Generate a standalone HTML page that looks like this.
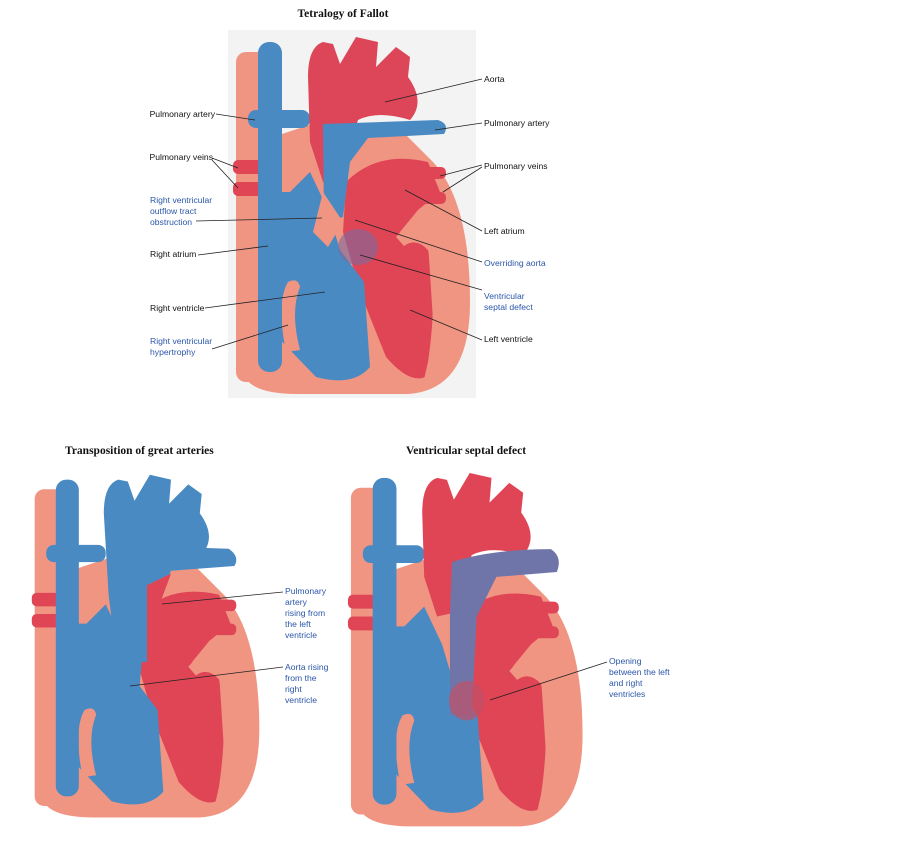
<!DOCTYPE html>
<html><head><meta charset="utf-8"><style>
html,body{margin:0;padding:0;background:#fff;}
svg{display:block;}
.t{font-family:"Liberation Sans",sans-serif;font-size:8.6px;fill:#111;}
.b{font-family:"Liberation Sans",sans-serif;font-size:8.6px;fill:#2a56a8;}
.h{font-family:"Liberation Serif",serif;font-size:11.5px;font-weight:bold;fill:#111;}
line{stroke:#222;stroke-width:0.8;}
</style></head><body>
<svg width="915" height="849" viewBox="0 0 915 849" xmlns="http://www.w3.org/2000/svg">
<defs>
<g id="base">
  <rect x="8" y="20" width="42" height="330" rx="10" fill="#f19583"/>
  <path d="M15,115 L15,340 Q20,362 70,362 L180,362 Q242,358 242,270 Q242,170 205,130 L175,100 L90,90 Z" fill="#f19583"/>
  <rect x="5" y="128" width="32" height="14" rx="5" fill="#e04556"/>
  <rect x="5" y="150" width="32" height="14" rx="5" fill="#e04556"/>
  <rect x="188" y="135" width="30" height="12" rx="5" fill="#e04556"/>
  <rect x="188" y="160" width="30" height="12" rx="5" fill="#e04556"/>
  <path d="M118,150 Q150,118 200,130 L212,160 L190,178 L172,200 L200,210 L208,335 Q190,362 158,325 L132,260 L115,200 Z" fill="#e04556"/>
  <path d="M168,205 Q190,178 212,190 Q230,235 226,300 Q220,348 195,352 L200,330 Q210,262 200,218 Q188,205 176,214 Z" fill="#f19583"/>
  <path d="M30,160 L62,160 L82,140 L100,178 L112,218 L136,250 L142,335 Q125,355 88,345 L62,318 L40,295 Z" fill="#4a8ac2"/>
  <path d="M58,320 Q48,270 60,250 Q70,245 72,255 Q62,280 72,318 Z" fill="#f19583"/>
  <rect x="20" y="78" width="62" height="18" rx="8" fill="#4a8ac2"/>
  <rect x="30" y="10" width="24" height="330" rx="11" fill="#4a8ac2"/>
</g>
</defs>

<text class="h" x="343" y="17" text-anchor="middle">Tetralogy of Fallot</text>
<text class="h" x="65" y="454">Transposition of great arteries</text>
<text class="h" x="406" y="454">Ventricular septal defect</text>

<!-- Heart 1 -->
<rect x="228" y="30" width="248" height="368" fill="#f3f3f3"/>
<g transform="translate(228,32)">
  <use href="#base"/>
  <path d="M80,45 Q80,15 95,10 L105,12 L112,32 L128,5 L150,10 L148,35 L168,15 L182,25 L180,45 Q198,70 182,88 Q150,78 130,88 L120,120 L118,145 L95,150 L82,110 Z" fill="#dc4658"/>
  <path d="M95,92 L210,88 Q222,92 216,102 L140,106 L122,130 L115,185 L96,190 Z" fill="#4a8ac2"/>
  <path d="M95,160 L115,190 L100,215 L85,200 Z" fill="#f19583"/>
  <ellipse cx="130" cy="215" rx="20" ry="18" fill="#7a6aa0" opacity="0.6"/>
</g>

<!-- Heart 2 -->
<g transform="translate(27,470) scale(0.96)">
  <use href="#base"/>
  <path d="M80,45 Q80,15 95,10 L105,12 L112,32 L128,5 L150,10 L148,35 L168,15 L182,25 L180,45 Q198,70 182,88 L140,92 L125,140 L115,250 L100,250 L85,130 Z" fill="#4a8ac2"/>
  <path d="M112,100 Q120,80 150,80 L210,82 Q222,90 216,100 L150,105 L140,130 L132,200 L118,200 Z" fill="#4a8ac2"/>
  <path d="M125,120 L150,108 L140,135 L135,200 L125,200 Z" fill="#e04556"/>
</g>

<!-- Heart 3 -->
<g transform="translate(343,468) scale(0.99)">
  <use href="#base"/>
  <path d="M80,45 Q80,15 95,10 L105,12 L112,32 L128,5 L150,10 L148,35 L168,15 L182,25 L180,45 Q198,70 182,88 Q150,78 130,88 L120,120 L118,145 L95,150 L82,110 Z" fill="#e04556"/>
  <path d="M110,95 Q150,82 210,82 Q222,90 216,105 L155,110 L135,150 L130,250 L108,250 L108,150 Z" fill="#6f75a8"/>
  <ellipse cx="125" cy="235" rx="18" ry="20" fill="#c05068" opacity="0.7"/>
</g>

<!-- Heart 1 labels -->
<text class="t" x="215" y="117" text-anchor="end">Pulmonary artery</text>
<line x1="216" y1="114" x2="255" y2="120"/>
<text class="t" x="213" y="160" text-anchor="end">Pulmonary veins</text>
<line x1="212" y1="158" x2="238" y2="168"/><line x1="212" y1="160" x2="238" y2="188"/>
<text class="b" x="150" y="203">Right ventricular</text>
<text class="b" x="150" y="214">outflow tract</text>
<text class="b" x="150" y="225">obstruction</text>
<line x1="196" y1="221" x2="322" y2="218"/>
<text class="t" x="150" y="257">Right atrium</text>
<line x1="198" y1="255" x2="268" y2="246"/>
<text class="t" x="150" y="311">Right ventricle</text>
<line x1="205" y1="308" x2="325" y2="292"/>
<text class="b" x="150" y="344">Right ventricular</text>
<text class="b" x="150" y="355">hypertrophy</text>
<line x1="212" y1="349" x2="288" y2="325"/>

<text class="t" x="484" y="82">Aorta</text>
<line x1="482" y1="79" x2="385" y2="102"/>
<text class="t" x="484" y="126">Pulmonary artery</text>
<line x1="482" y1="123" x2="435" y2="130"/>
<text class="t" x="484" y="169">Pulmonary veins</text>
<line x1="482" y1="165" x2="440" y2="176"/><line x1="482" y1="167" x2="443" y2="192"/>
<text class="t" x="484" y="234">Left atrium</text>
<line x1="482" y1="231" x2="405" y2="190"/>
<text class="b" x="484" y="266">Overriding aorta</text>
<line x1="482" y1="262" x2="355" y2="220"/>
<text class="b" x="484" y="299">Ventricular</text>
<text class="b" x="484" y="310">septal defect</text>
<line x1="482" y1="290" x2="360" y2="255"/>
<text class="t" x="484" y="342">Left ventricle</text>
<line x1="482" y1="340" x2="410" y2="310"/>

<!-- Heart 2 labels -->
<text class="b" x="285" y="594">Pulmonary</text>
<text class="b" x="285" y="605">artery</text>
<text class="b" x="285" y="616">rising from</text>
<text class="b" x="285" y="627">the left</text>
<text class="b" x="285" y="638">ventricle</text>
<line x1="283" y1="592" x2="162" y2="604"/>
<text class="b" x="285" y="670">Aorta rising</text>
<text class="b" x="285" y="681">from the</text>
<text class="b" x="285" y="692">right</text>
<text class="b" x="285" y="703">ventricle</text>
<line x1="283" y1="667" x2="130" y2="686"/>

<!-- Heart 3 labels -->
<text class="b" x="609" y="664">Opening</text>
<text class="b" x="609" y="675">between the left</text>
<text class="b" x="609" y="686">and right</text>
<text class="b" x="609" y="697">ventricles</text>
<line x1="607" y1="662" x2="490" y2="700"/>
</svg>
</body></html>
